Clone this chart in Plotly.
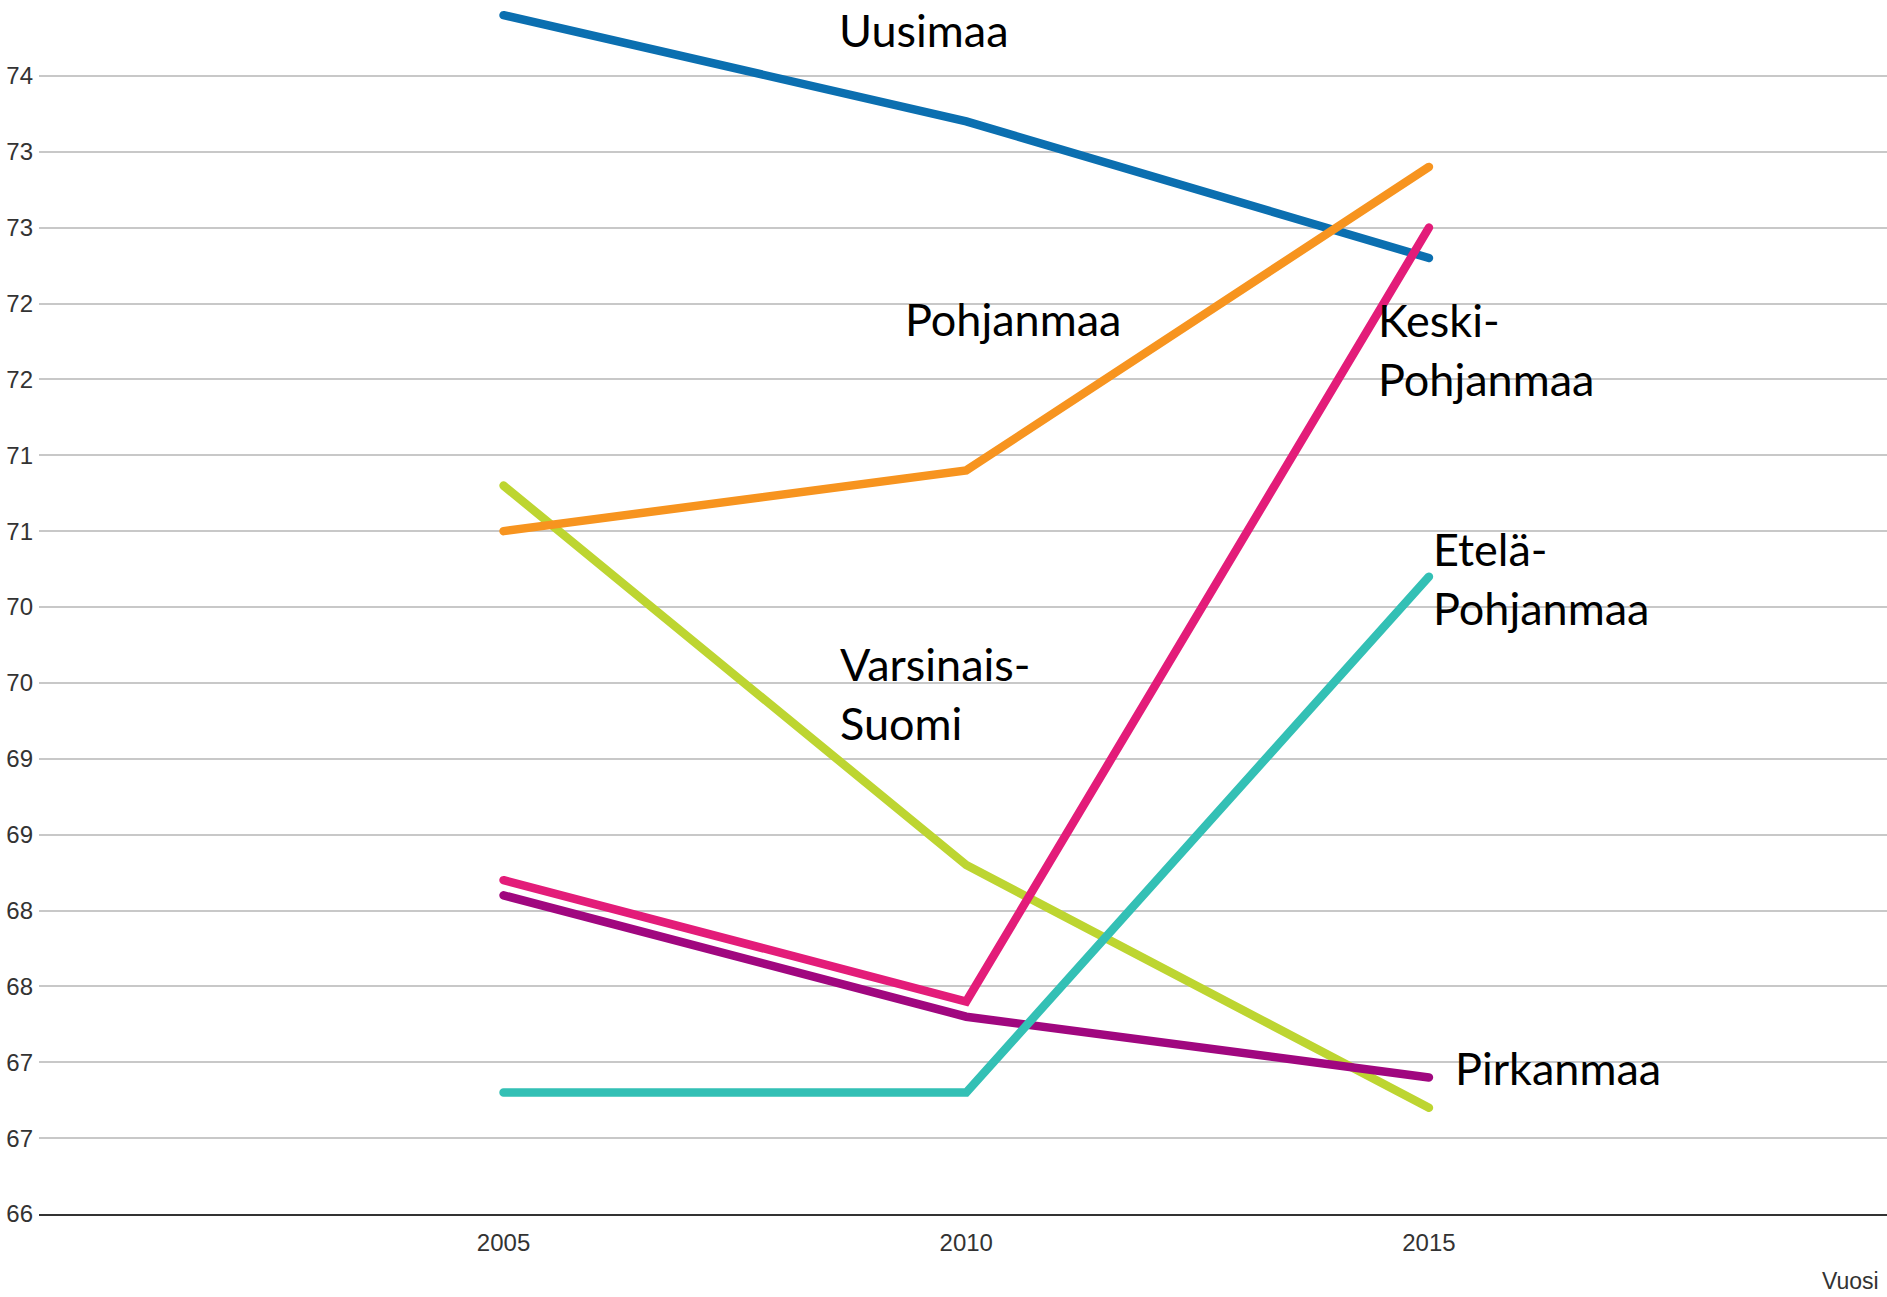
import plotly.graph_objects as go

years = [2005, 2010, 2015]

uusimaa = [73.9, 73.2, 72.3]
pohjanmaa = [70.5, 70.9, 72.9]
keski_pohjanmaa = [68.2, 67.4, 72.5]
pirkanmaa = [68.1, 67.3, 66.9]
etela_pohjanmaa = [66.8, 66.8, 70.2]
varsinais_suomi = [70.8, 68.3, 66.7]

y_tickvals = [66, 66.5, 67, 67.5, 68, 68.5, 69, 69.5, 70, 70.5, 71, 71.5, 72, 72.5, 73, 73.5]
y_ticktext = ["66", "67", "67", "68", "68", "69", "69", "70", "70", "71", "71", "72", "72", "73", "73", "74"]
x_tickvals = [2005, 2010, 2015]
x_ticktext = ["2005", "2010", "2015"]

series = [
    ("Varsinais-Suomi", varsinais_suomi, "#bdd531"),
    ("Uusimaa", uusimaa, "#0b6fb0"),
    ("Pirkanmaa", pirkanmaa, "#a0077f"),
    ("Pohjanmaa", pohjanmaa, "#f7941f"),
    ("Etelä-Pohjanmaa", etela_pohjanmaa, "#33c0b5"),
    ("Keski-Pohjanmaa", keski_pohjanmaa, "#e31c79"),
]

fig = go.Figure()
for name, vals, col in series:
    fig.add_trace(go.Scatter(x=years, y=vals, mode="lines", name=name,
                             line=dict(color=col, width=8.5), showlegend=False))

labels = [
    ("Uusimaa", 2008.60, 73.80),
    ("Pohjanmaa", 2009.32, 71.90),
    ("Keski-<br>Pohjanmaa", 2014.43, 71.70),
    ("Etelä-<br>Pohjanmaa", 2015.02, 70.19),
    ("Varsinais-<br>Suomi", 2008.61, 69.43),
    ("Pirkanmaa", 2015.26, 66.965),
]
for txt, x, y in labels:
    fig.add_annotation(x=x, y=y, xref="x", yref="y", text=txt, showarrow=False,
                       xanchor="left", yanchor="middle", align="left",
                       font=dict(family="Lato", size=45, color="#000"))

fig.add_annotation(x=1, y=0, xref="paper", yref="paper", yshift=-67, xshift=-6,
                   text="Vuosi", showarrow=False, xanchor="right", yanchor="middle",
                   font=dict(family="Liberation Sans", size=23, color="#333"))

fig.update_layout(
    width=1887, height=1297,
    margin=dict(l=39, r=0, t=0, b=83),
    paper_bgcolor="white", plot_bgcolor="white",
    font=dict(family="Liberation Sans", size=24, color="#333"),
    xaxis=dict(range=[1999.98, 2019.95], tickvals=x_tickvals, ticktext=x_ticktext,
               showgrid=False, zeroline=False, showline=True, linecolor="#333",
               linewidth=2, ticks="", ticklabelstandoff=6),
    yaxis=dict(range=[66, 74], tickvals=y_tickvals, ticktext=y_ticktext,
               showgrid=True, gridcolor="#c8c8c8", gridwidth=1.5,
               zeroline=False, ticks="", ticklabelstandoff=5),
)

fig.write_html(
    "out.html",
    config={"displayModeBar": False},
    post_script=(
        "document.body.style.margin='0';document.body.style.padding='0';"
        "document.body.style.overflow='hidden';"
        "document.querySelectorAll('.scatterlayer path.js-line').forEach(function(p){"
        "p.style.strokeLinecap='round';});"
    ),
)
